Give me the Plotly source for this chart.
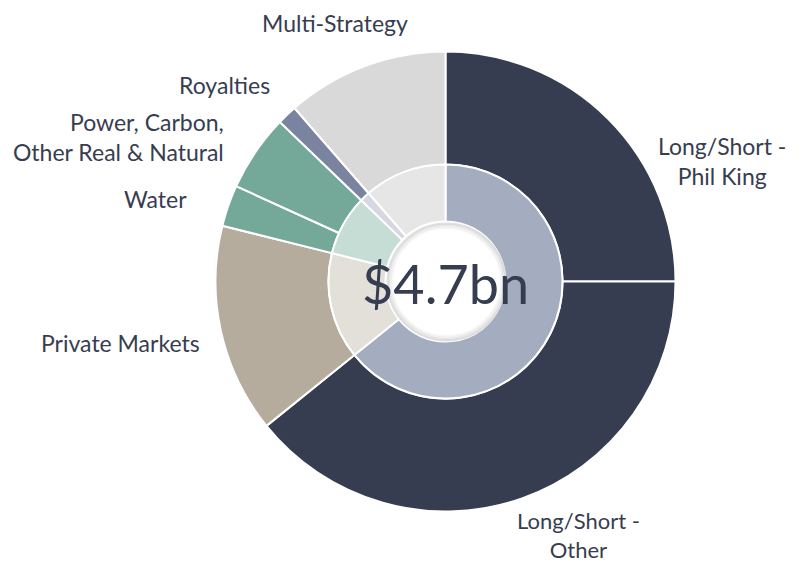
import plotly.graph_objects as go

# Outer ring: strategies (% of $4.7bn)
outer_labels = ["Long/Short - Phil King", "Long/Short - Other", "Private Markets", "Water",
                "Power, Carbon, Other Real & Natural", "Royalties", "Multi-Strategy"]
outer_values = [25.0, 39.2, 14.7, 2.9, 5.4, 1.4, 11.4]
outer_colors = ["#373d50", "#373d50", "#b5ac9e", "#74a898", "#74a898", "#7a84a1", "#d9d9d9"]

# Inner ring: groups
inner_labels = ["Long/Short", "Private Markets", "Real & Natural", "Royalties", "Multi-Strategy"]
inner_members = [[0, 1], [2], [3, 4], [5], [6]]
inner_values = [sum(outer_values[i] for i in m) for m in inner_members]
inner_colors = ["#a4adc0", "#e3e0da", "#c6ddd6", "#d5d7e2", "#e6e6e6"]

center_text = "$4.7bn"

W, H = 805, 563
OFF = 8                     # page body margin
def px(x): return (x - OFF) / W
def py(y): return 1 - (y - OFF) / H

cx, cy = 445.5, 281.5       # pixel centre on page
R_out, R_mid, R_in = 230, 117, 60

def dom(r):
    return dict(x=[px(cx - r), px(cx + r)], y=[py(cy + r), py(cy - r)])

fig = go.Figure()
fig.add_trace(go.Pie(labels=outer_labels, values=outer_values, sort=False, direction="clockwise",
                     rotation=0, hole=R_mid / R_out, domain=dom(R_out), textinfo="none",
                     marker=dict(colors=outer_colors, line=dict(color="white", width=2)),
                     showlegend=False, hoverinfo="label+value"))
fig.add_trace(go.Pie(labels=inner_labels, values=inner_values, sort=False, direction="clockwise",
                     rotation=0, hole=R_in / R_mid, domain=dom(R_mid), textinfo="none",
                     marker=dict(colors=inner_colors, line=dict(color="white", width=2)),
                     showlegend=False, hoverinfo="label+value"))

# subtle inset shadow on the centre hole
xa, ya = px(cx), py(cy)
for i, op in enumerate([0.12, 0.08, 0.05, 0.03]):
    r = R_in - 1 - i * 1.5
    fig.add_shape(type="circle", xref="paper", yref="paper", xsizemode="pixel", ysizemode="pixel",
                  xanchor=xa, yanchor=ya, x0=-r + 1, x1=r + 1, y0=-r, y1=r - 1,
                  line=dict(color=f"rgba(0,0,0,{op})", width=2), layer="above")

txt = "#373d50"
fam = "Lato, 'Open Sans', sans-serif"
fnt = dict(family=fam, size=23, color=txt)
ann = [
    dict(text=center_text, x=xa, y=py(283), xanchor="center", yanchor="middle",
         font=dict(family=fam, size=54, color=txt)),
    dict(text="Multi-Strategy", x=px(335), y=py(23), xanchor="center", yanchor="middle", font=fnt),
    dict(text="Royalties", x=px(272), y=py(85), xanchor="right", yanchor="middle", font=fnt),
    dict(text="Power, Carbon,<br>Other Real & Natural", x=px(226), y=py(137), xanchor="right",
         yanchor="middle", align="right", font=fnt),
    dict(text="Water", x=px(189), y=py(199), xanchor="right", yanchor="middle", font=fnt),
    dict(text="Private Markets", x=px(202), y=py(343), xanchor="right", yanchor="middle", font=fnt),
    dict(text="Long/Short -<br>Phil King", x=px(722), y=py(161), xanchor="center",
         yanchor="middle", align="center", font=fnt),
    dict(text="Long/Short -<br>Other", x=px(578), y=py(535), xanchor="center",
         yanchor="middle", align="center", font=dict(family=fam, size=22, color=txt)),
]
for a in ann:
    a.update(xref="paper", yref="paper", showarrow=False)
fig.update_layout(width=W, height=H, margin=dict(l=0, r=0, t=0, b=0),
                  paper_bgcolor="white", plot_bgcolor="white", annotations=ann)
fig.write_html("out.html")
